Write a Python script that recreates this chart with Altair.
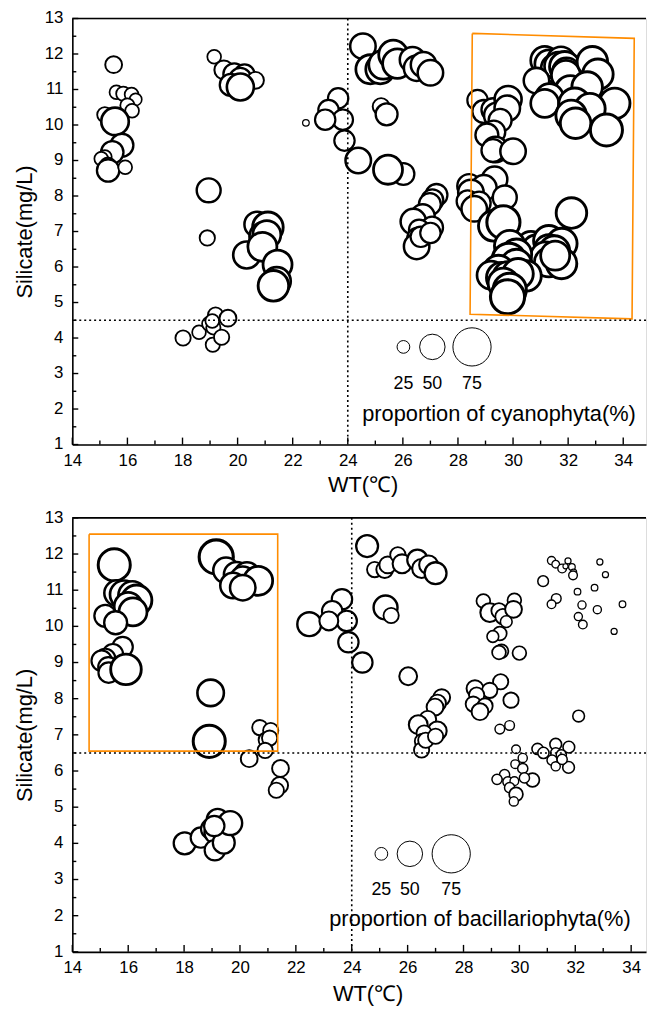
import altair as alt
import pandas as pd
import math

# ---- data: shared sample positions, two proportion series ----
wt = [
    15.50, 15.60, 15.85, 16.15, 16.30, 16.00, 16.17, 15.18, 15.55, 15.80, 15.45, 15.18, 15.05, 15.29, 15.30, 15.92,
    19.15, 19.50, 19.88, 20.25, 20.10, 20.65, 19.75, 20.10,
    18.95, 18.90, 22.48,
    20.71, 21.10, 20.94, 21.06, 20.33, 20.90, 21.45, 21.42, 21.30,
    18.02, 18.60, 18.97, 19.20, 19.12, 19.10, 19.42, 19.65, 19.08,
    23.65, 23.30, 23.82, 23.18, 23.88, 24.38,
    24.55, 24.82, 25.18, 25.29, 25.65, 25.80, 26.35, 26.50, 26.75, 27.00, 25.21, 25.41, 26.02, 25.46,
    27.22, 27.07, 26.98, 26.72, 26.38, 27.06, 26.59, 26.53, 26.50, 26.65, 27.00,
    28.41, 29.33, 28.94, 28.47, 29.70, 28.35, 28.77, 28.59, 29.30, 29.65,
    28.71, 28.94, 29.27, 29.41, 29.82, 29.79, 29.53, 29.30, 29.05, 29.36, 29.27, 30.00,
    30.65, 30.86, 31.30, 31.77, 31.30, 31.50, 31.17, 31.30, 31.76, 31.53, 29.88, 30.12, 29.85, 30.12,
    29.47, 29.20, 29.59, 29.82, 30.47, 30.18, 29.65, 29.88, 29.80, 32.12,
    31.15, 31.30, 31.53, 31.74, 31.65, 31.88, 31.94, 31.92, 32.88, 33.08, 30.85, 32.08, 32.69, 31.32,
    31.15, 32.24, 33.69, 32.79, 32.11, 32.27, 33.39,
]
silicate = [
    11.70, 10.92, 10.88, 10.86, 10.72, 10.55, 10.40, 10.29, 10.10, 9.43, 9.23, 9.10, 9.05, 8.87, 8.72, 8.81,
    11.92, 11.55, 11.43, 11.42, 11.30, 11.26, 11.13, 11.07,
    8.16, 6.82, 10.06,
    7.20, 7.12, 6.86, 6.91, 6.34, 6.57, 6.07, 5.60, 5.47,
    4.00, 4.16, 4.40, 4.65, 4.30, 3.81, 4.02, 4.56, 4.48,
    10.75, 10.42, 10.15, 10.15, 9.56, 9.00,
    12.22, 11.57, 11.57, 11.70, 11.98, 11.73, 11.84, 11.60, 11.70, 11.47, 10.52, 10.30, 8.62, 8.74,
    8.03, 7.88, 7.77, 7.43, 7.28, 7.11, 7.05, 6.82, 6.58, 6.85, 6.96,
    8.28, 8.47, 8.23, 8.10, 7.96, 7.85, 7.80, 7.64, 7.16, 7.26,
    10.70, 10.38, 10.43, 10.27, 10.72, 10.47, 10.13, 9.80, 9.72, 9.31, 9.28, 9.26,
    6.61, 6.50, 6.74, 6.66, 6.50, 6.45, 6.30, 6.13, 6.10, 6.32, 6.60, 6.36, 6.19, 6.07,
    5.90, 5.77, 5.70, 5.72, 5.75, 5.81, 5.54, 5.36, 5.16, 7.52,
    11.82, 11.72, 11.60, 11.81, 11.66, 11.64, 11.50, 11.41, 11.78, 11.43, 11.25, 10.96, 11.07, 10.77,
    10.61, 10.59, 10.61, 10.46, 10.27, 10.05, 9.86,
]
cyano = [
    33, 27, 28, 27, 24, 28, 27, 30, 54, 45, 44, 27, 27, 30, 44, 27,
    27, 37, 43, 40, 43, 33, 43, 53,
    47, 30, 13,
    50, 60, 55, 55, 53, 57, 57, 55, 60,
    30, 27, 28, 30, 28, 28, 30, 33, 27,
    40, 40, 40, 40, 40, 50,
    50, 57, 57, 57, 57, 58, 50, 50, 50, 50, 33, 43, 43, 57,
    43, 43, 43, 47, 50, 43, 40, 40, 50, 40, 40,
    47, 50, 50, 50, 47, 43, 45, 50, 60, 65,
    40, 45, 45, 50, 53, 50, 45, 45, 45, 50, 45, 50,
    55, 57, 60, 60, 57, 60, 57, 57, 60, 57, 60, 60, 67, 60,
    60, 55, 60, 60, 60, 60, 60, 65, 67, 60,
    55, 55, 55, 55, 55, 60, 55, 57, 60, 60, 50, 60, 60, 55,
    55, 63, 60, 60, 60, 60, 63,
]
bacil = [
    63, 50, 55, 55, 60, 55, 55, 43, 45, 40, 40, 40, 40, 40, 40, 60,
    67, 50, 50, 50, 50, 57, 50, 50,
    52, 63, 47,
    30, 30, 30, 30, 33, 30, 33, 33, 30,
    43, 40, 40, 43, 43, 40, 43, 47, 40,
    40, 40, 40, 37, 40, 40,
    43, 30, 33, 33, 30, 37, 40, 37, 37, 43, 47, 30, 35, 0,
    33, 33, 33, 33, 37, 37, 30, 30, 30, 30, 30,
    33, 30, 30, 30, 30, 30, 30, 33, 19, 19,
    27, 37, 30, 30, 27, 33, 23, 27, 23, 27, 27, 27,
    22, 22, 23, 23, 20, 20, 20, 18, 23, 20, 17, 18, 17, 20,
    20, 20, 20, 17, 27, 20, 20, 27, 18, 23,
    16, 15, 17, 12, 10, 13, 12, 17, 12, 12, 21, 13, 13, 19,
    17, 16, 13, 16, 16, 17, 12,
]

legend_values = [25, 50, 75]
x_ticks = [14, 16, 18, 20, 22, 24, 26, 28, 30, 32, 34]
y_ticks = [1, 2, 3, 4, 5, 6, 7, 8, 9, 10, 11, 12, 13]

# orange selection outlines (data coordinates)
box1_x = [28.52, 34.40, 34.32, 28.44, 28.52]
box1_y = [12.58, 12.44, 4.54, 4.67, 12.58]
box2_x = [14.60, 21.35, 21.35, 14.60, 14.60]
box2_y = [12.55, 12.55, 6.55, 6.55, 12.55]

df = pd.DataFrame({"wt": wt, "si": silicate, "cyano": cyano, "bacil": bacil})

FONT = "Liberation Sans"
SIZE_SCALE = alt.Scale(type="pow", exponent=2, domain=[0, 100], range=[0, math.pi * 29 ** 2])
SW_SCALE = alt.Scale(domain=[0, 100], range=[0.8, 4.3])


def panel(field, W, H, xmax, hline, bx, by, leg_x, leg_y, lab_y,
          leg_title, leg_title_x, leg_title_y, title_x, title_pad_x):
    xs = alt.Scale(domain=[14, xmax], nice=False, zero=False)
    ys = alt.Scale(domain=[1, 13], nice=False, zero=False)
    xaxis = alt.Axis(values=x_ticks, ticks=False, grid=False, labelFont=FONT, labelFontSize=17,
                     labelColor="black", labelPadding=8, domainColor="black", domainWidth=1.6,
                     title="WT(℃)", titleFont=FONT, titleFontSize=22, titleFontWeight="normal",
                     titleColor="black", titlePadding=title_pad_x, titleX=title_x, labelFlush=False,
                     labelOverlap=False)
    yaxis = alt.Axis(values=y_ticks, ticks=False, grid=False, labels=False,
                     domainColor="black", domainWidth=1.6,
                     title="Silicate(mg/L)", titleFont=FONT, titleFontSize=22, titleFontWeight="normal",
                     titleColor="black", titlePadding=36)
    X = lambda f: alt.X(f, scale=xs, axis=xaxis)
    Y = lambda f: alt.Y(f, scale=ys, axis=yaxis)

    d = df[df[field] > 0]
    circles = alt.Chart(d).mark_circle(fill="white", fillOpacity=1, stroke="black", opacity=1).encode(
        x=X("wt:Q"),
        y=Y("si:Q"),
        size=alt.Size(f"{field}:Q", scale=SIZE_SCALE, legend=None),
        strokeWidth=alt.StrokeWidth(f"{field}:Q", scale=SW_SCALE, legend=None),
    )

    vline = alt.Chart().mark_rule(color="black", strokeDash=[2, 3], strokeWidth=1.6).encode(x=alt.datum(24))
    hl = alt.Chart().mark_rule(color="black", strokeDash=[2, 3], strokeWidth=1.6).encode(y=alt.datum(hline))
    topline = alt.Chart().mark_rule(color="black", strokeWidth=1.6).encode(y=alt.datum(13))

    box = alt.Chart(pd.DataFrame({"x": bx, "y": by, "i": list(range(len(bx)))})).mark_line(
        color="#FF8C00", strokeWidth=1.6).encode(x=X("x:Q"), y=Y("y:Q"), order="i:Q")

    xmaj = alt.Chart(pd.DataFrame({"v": x_ticks})).mark_rule(color="black", strokeWidth=1.4).encode(
        x=X("v:Q"), y=alt.value(H), y2=alt.value(H - 7))
    xmin = alt.Chart(pd.DataFrame({"v": [15, 17, 19, 21, 23, 25, 27, 29, 31, 33]})).mark_rule(
        color="black", strokeWidth=1.4).encode(x=X("v:Q"), y=alt.value(H), y2=alt.value(H - 4))
    ytab = pd.DataFrame({"v": y_ticks, "t": [str(v) for v in y_ticks]})
    ymaj = alt.Chart(ytab).mark_rule(color="black", strokeWidth=1.4).encode(
        y=Y("v:Q"), x=alt.value(0), x2=alt.value(6))
    ymin = alt.Chart(pd.DataFrame({"v": [v + 0.5 for v in y_ticks[:-1]]})).mark_rule(
        color="black", strokeWidth=1.4).encode(y=Y("v:Q"), x=alt.value(0), x2=alt.value(4))
    ylab = alt.Chart(ytab).mark_text(font=FONT, fontSize=17, color="black", align="right",
                                     baseline="middle").encode(
        y=Y("v:Q"), x=alt.value(-9), text="t:N")

    leg = pd.DataFrame({"x": leg_x, "y": [leg_y] * 3, "v": legend_values,
                        "ly": [lab_y] * 3, "t": [str(v) for v in legend_values]})
    leg_c = alt.Chart(leg).mark_circle(fill="white", fillOpacity=1, stroke="black", strokeWidth=1,
                                       opacity=1).encode(
        x=X("x:Q"), y=Y("y:Q"), size=alt.Size("v:Q", scale=SIZE_SCALE, legend=None))
    leg_t = alt.Chart(leg).mark_text(font=FONT, fontSize=18, color="black").encode(
        x=X("x:Q"), y=Y("ly:Q"), text="t:N")
    leg_title_m = alt.Chart(pd.DataFrame({"x": [leg_title_x], "y": [leg_title_y], "t": [leg_title]})).mark_text(
        font=FONT, fontSize=22, color="black").encode(x=X("x:Q"), y=Y("y:Q"), text="t:N")

    return alt.layer(circles, box, vline, hl, topline, xmaj, xmin, ymaj, ymin, ylab,
                     leg_c, leg_t, leg_title_m).properties(width=W, height=H)


top = panel("cyano", 579, 430, 14 + 579 / 27.8, 4.5, box1_x, box1_y,
            [26.02, 27.07, 28.51], 3.75, 2.71,
            "proportion of cyanophyta(%)", 29.49, 1.87, 293, 6)
bottom = panel("bacil", 579, 438, 14 + 579 / 28.2, 6.5, box2_x, box2_y,
               [25.06, 26.08, 27.56], 3.71, 2.72,
               "proportion of bacillariophyta(%)", 28.59, 1.9, 298, 8)

chart = alt.vconcat(top, bottom, spacing=12,
                    padding={"left": 13, "top": 4, "right": 0, "bottom": -4}).configure_view(
    stroke=None).configure(background="white")

chart.save("out.html", embed_options={"renderer": "svg", "actions": False})
